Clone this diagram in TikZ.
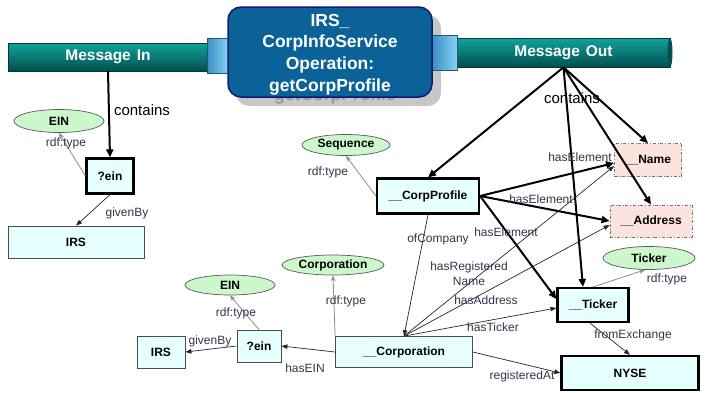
\documentclass[tikz,border=0pt]{standalone}
\usepackage{fontspec}
\setmainfont{Liberation Sans}
\usetikzlibrary{arrows.meta,shapes.geometric,calc}

\definecolor{paleCyan}{HTML}{E6FFFF}
\definecolor{clsGreen}{HTML}{CCF7CC}
\definecolor{elemPink}{HTML}{FCE4DE}
\definecolor{opBlue}{HTML}{0A6298}
\definecolor{opEdge}{HTML}{101A6E}
\definecolor{barTop}{HTML}{10A39D}
\definecolor{barMid}{HTML}{008F8A}
\definecolor{barDark}{HTML}{024F4C}
\definecolor{plugLight}{HTML}{86D2F4}
\definecolor{plugDark}{HTML}{3A8EC2}
\definecolor{lblText}{HTML}{33334A}
\definecolor{typeLine}{HTML}{8C8C8C}

\begin{document}
\begin{tikzpicture}[x=1pt,y=-1pt,
  every node/.style={inner sep=0pt},
  res/.style={rectangle, draw=black!70, line width=0.8pt, fill=paleCyan,
    font=\bfseries\fontsize{12}{14}\selectfont},
  keyres/.style={res, draw=black, line width=2.2pt},
  cls/.style={ellipse, draw=black!65, line width=0.7pt, fill=clsGreen,
    font=\bfseries\fontsize{12}{14}\selectfont},
  elem/.style={rectangle, draw=black!55, dash dot, line width=0.8pt, fill=elemPink,
    font=\bfseries\fontsize{12}{14}\selectfont},
  lbl/.style={text=lblText, font=\fontsize{12}{14}\selectfont},
  biglbl/.style={text=black, font=\fontsize{15}{17}\selectfont},
  rel/.style={draw=black!85, line width=0.7pt, -{Triangle[length=6pt,width=4.5pt]}},
  strong/.style={draw=black, line width=2pt, -{Triangle[length=8pt,width=7pt]}},
  typeof/.style={draw=typeLine, line width=0.8pt, -{Stealth[length=6pt,width=4.5pt]}},
  bar/.style={rectangle, draw=barDark!70!black, line width=0.6pt,
    top color=barTop, middle color=barMid, bottom color=barDark,
    text=white, font=\bfseries\fontsize{15.5}{17}\selectfont},
  plug/.style={rectangle, draw=plugDark!60!black, line width=0.5pt,
    left color=plugDark, right color=plugLight}
]
\useasboundingbox (0,0) rectangle (707,392);

% drop shadow of the operation box and its faded caption
\fill[black!22, rounded corners=13pt] (236,15) rectangle (441,106);
\node[text=black!40, font=\bfseries\fontsize{17.5}{21}\selectfont] (ghost) at (335,96) {getCorpProfile};

% message pipes and their plugs
\node[bar, minimum width=199, minimum height=28] (msgin) at (108,57) {Message\hspace{6pt}In};
\node[bar, minimum width=213, minimum height=29] (msgout) at (563.5,52.5) {Message\hspace{6pt}Out};
\fill[barDark] (670,52.5) ellipse [x radius=2.5, y radius=14.5];
\node[plug, minimum width=21, minimum height=35] (plugin) at (217.5,55.5) {};
\node[plug, minimum width=25, minimum height=35] (plugout) at (444.5,52.5) {};

% operation
\node[rectangle, rounded corners=13pt, fill=opBlue, draw=opEdge, line width=1.5pt,
  minimum width=204, minimum height=90] (op) at (330,52) {};
\node[text=white, align=center, font=\bfseries\fontsize{17.5}{21.8}\selectfont]
  (optext) at (330,54.5) {IRS\_\\CorpInfoService\\Operation:\\getCorpProfile};

% input side
\node[keyres, minimum width=47, minimum height=35] (ein1) at (110,176) {?ein};
\node[res, minimum width=136, minimum height=32] (irs1) at (76,242) {IRS};
\node[cls, minimum width=90, minimum height=23] (einc1) at (59,121) {EIN};

% output side
\node[keyres, minimum width=102, minimum height=35] (cp) at (428,196) {\_\_CorpProfile};
\node[cls, minimum width=88, minimum height=21] (seq) at (346,145) {Sequence};
\node[elem, minimum width=67, minimum height=33] (name) at (648,160) {\_\_Name};
\node[elem, minimum width=82, minimum height=32] (addr) at (651,221) {\_\_Address};
\node[cls, minimum width=92, minimum height=23] (tickc) at (649,258) {Ticker};
\node[keyres, minimum width=71, minimum height=34] (tick) at (593,305) {\_\_Ticker};
\node[keyres, minimum width=137, minimum height=34] (nyse) at (630,373) {NYSE};
\node[cls, minimum width=102, minimum height=20] (corpc) at (333,265) {Corporation};
\node[res, minimum width=137, minimum height=31] (corp) at (404,352) {\_\_Corporation};
\node[res, minimum width=44, minimum height=32] (ein2) at (259,346) {?ein};
\node[cls, minimum width=90, minimum height=20] (einc2) at (230,285) {EIN};
\node[res, minimum width=48, minimum height=32] (irs2) at (161,352) {IRS};

% input message contents
\draw[strong] (msgin.south) -- (ein1.north);
\node[biglbl] (lcont) at (142,110) {contains};
\draw[typeof] (ein1.west) -- (einc1.south);
\node[lbl] (lt1) at (66,143) {rdf:type};
\draw[rel] (ein1.south) -- (irs1.north);
\node[lbl] (lg1) at (127,213) {givenBy};

% output message contents
\draw[strong] (msgout.south) -- (cp.north);
\draw[strong] (msgout.south) -- (name.north);
\draw[strong] (msgout.south) -- (addr.north);
\draw[strong] (msgout.south) -- ($(tick.north)+(-10,0)$);
\node[biglbl] (rcont) at (572,98) {contains};

\draw[typeof] (cp.west) -- (seq.south);
\node[lbl] (lt2) at (328,172) {rdf:type};

\draw[strong] (cp.east) -- ($(name.west)+(0,3)$);
\draw[strong] (cp.east) -- (addr.west);
\draw[strong] (cp.east) -- ($(tick.west)+(0,-6)$);
\node[lbl] (le1) at (580,157) {hasElement};
\node[lbl] (le2) at (541,199) {hasElement};
\node[lbl] (le3) at (506,232) {hasElement};

\draw[rel] (cp.south) -- (corp.north);
\node[lbl] (loc) at (438,239) {ofCompany};
\draw[rel] (corp.north) -- ($(name.west)+(0,6)$);
\draw[rel] (corp.north) -- ($(addr.west)+(0,4)$);
\draw[rel] (corp.north) -- ($(tick.west)+(0,3)$);
\node[lbl, align=center, font=\fontsize{12}{15}\selectfont] (lrn) at (469,274) {hasRegistered\\Name};
\node[lbl] (lad) at (486,300) {hasAddress};
\node[lbl] (ltk) at (493,327) {hasTicker};

\draw[typeof] (tick.north) -- ($(tickc.south)+(-4,0)$);
\node[lbl] (lt3) at (667,279) {rdf:type};
\draw[rel] ($(tick.south)+(-3,0)$) -- (nyse.north);
\node[lbl] (lfx) at (633,335) {fromExchange};
\draw[rel] (corp.east) -- (nyse.west);
\node[lbl] (lra) at (522,376) {registeredAt};

\draw[typeof] (corp.north west) -- (corpc.south);
\node[lbl] (lt4) at (346,301) {rdf:type};
\draw[rel] (corp.west) -- (ein2.east);
\node[lbl] (lhe) at (305,368) {hasEIN};
\draw[typeof] (ein2.north) -- (einc2.south);
\node[lbl] (lt5) at (236,313) {rdf:type};
\draw[rel] (ein2.west) -- (irs2.east);
\node[lbl] (lg2) at (210,341) {givenBy};
\end{tikzpicture}
\end{document}
